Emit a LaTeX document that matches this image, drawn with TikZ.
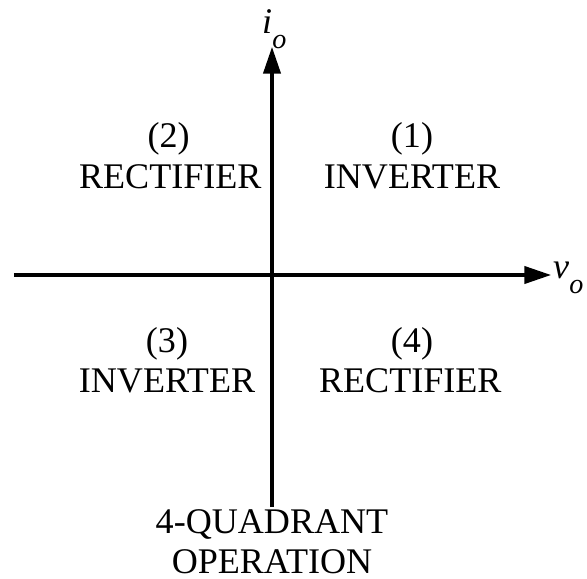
\documentclass[tikz,border=0pt]{standalone}
\usepackage{fontspec}
\setmainfont{Liberation Serif}
\usetikzlibrary{arrows.meta}

\newcommand{\axlabel}[2]{{\itshape #1}\raisebox{-0.42em}{\fontsize{24}{24}\selectfont\itshape #2}}

\begin{document}
\begin{tikzpicture}[
    axis/.style={line width=2.6pt, -{Triangle[length=0.8cm,width=0.52cm]}},
    lbl/.style={font=\fontsize{30.8}{36}\selectfont, anchor=base, inner sep=0pt}
  ]
    \useasboundingbox (-8.16,-9.09) rectangle (9.45,8.25);

    % Axes
    \coordinate (vbot) at (0,-6.96);
    \coordinate (vtop) at (0,6.84);
    \coordinate (hleft) at (-7.74,0);
    \coordinate (hright) at (8.37,0);
    \draw[axis] (hleft) -- (hright);
    \draw[axis] (vbot) -- (vtop);
    \node[lbl, anchor=base west] (io) at (-0.3,7.26) {\axlabel{i}{o}};
    \node[lbl, anchor=base west] (vo) at (8.43,-0.09) {\axlabel{v}{o}};

    % Quadrants
    \node[lbl] (q1num) at (4.2,3.84) {(1)};
    \node[lbl] (q1name) at (4.2,2.61) {INVERTER};
    \node[lbl] (q2num) at (-3.1,3.84) {(2)};
    \node[lbl] (q2name) at (-3.05,2.61) {RECTIFIER};
    \node[lbl] (q3num) at (-3.15,-2.31) {(3)};
    \node[lbl] (q3name) at (-3.15,-3.51) {INVERTER};
    \node[lbl] (q4num) at (4.2,-2.31) {(4)};
    \node[lbl] (q4name) at (4.15,-3.51) {RECTIFIER};

    % Caption
    \node[lbl] (cap1) at (0,-7.74) {4-QUADRANT};
    \node[lbl, text depth=0pt] (cap2) at (0,-8.94) {OPERATION};
\end{tikzpicture}
\end{document}
